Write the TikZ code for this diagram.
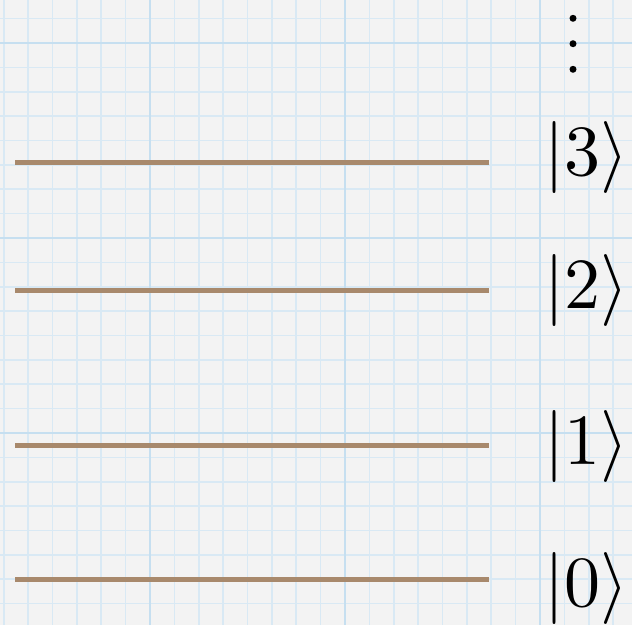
\documentclass[tikz,border=0pt]{standalone}
\usepackage{graphicx}
\definecolor{paper}{RGB}{243,243,243}
\definecolor{gridfine}{RGB}{217,233,244}
\definecolor{gridmajor}{RGB}{198,223,240}
\definecolor{level}{RGB}{168,137,108}
\newcommand{\bigket}[1]{\scalebox{7.2}{$|#1\rangle$}}
\tikzset{
  fine/.style={gridfine, line width=1.6},
  major/.style={gridmajor, line width=2.6},
  levelline/.style={level, line width=5, line cap=butt},
  ket/.style={anchor=base west, inner sep=0pt}
}
\begin{document}
\begin{tikzpicture}[x=1pt, y=-1pt]
\useasboundingbox[fill=paper] (0,0) rectangle (632,625);
% graph paper
\foreach \i in {0,...,25} \draw[fine] (3.75+24.375*\i,0) -- ++(0,625);
\foreach \j in {0,...,25} \draw[fine] (0,18.6+24.375*\j) -- ++(632,0);
\foreach \i in {150,345,540} \draw[major] (\i,0) -- ++(0,625);
\foreach \j in {43,238,433} \draw[major] (0,\j) -- ++(632,0);
% levels
\foreach \y in {162,290,445,579} \draw[levelline] (15,\y) -- (489,\y);
\draw (544,175) node[ket] (ket3) {\bigket{3}};
\draw (544,308) node[ket] (ket2) {\bigket{2}};
\draw (544,464) node[ket] (ket1) {\bigket{1}};
\draw (544,606) node[ket] (ket0) {\bigket{0}};
\fill (573,18.3) circle (3.5) (573,43.7) circle (3.5) (573,69.3) circle (3.5);
\end{tikzpicture}
\end{document}
